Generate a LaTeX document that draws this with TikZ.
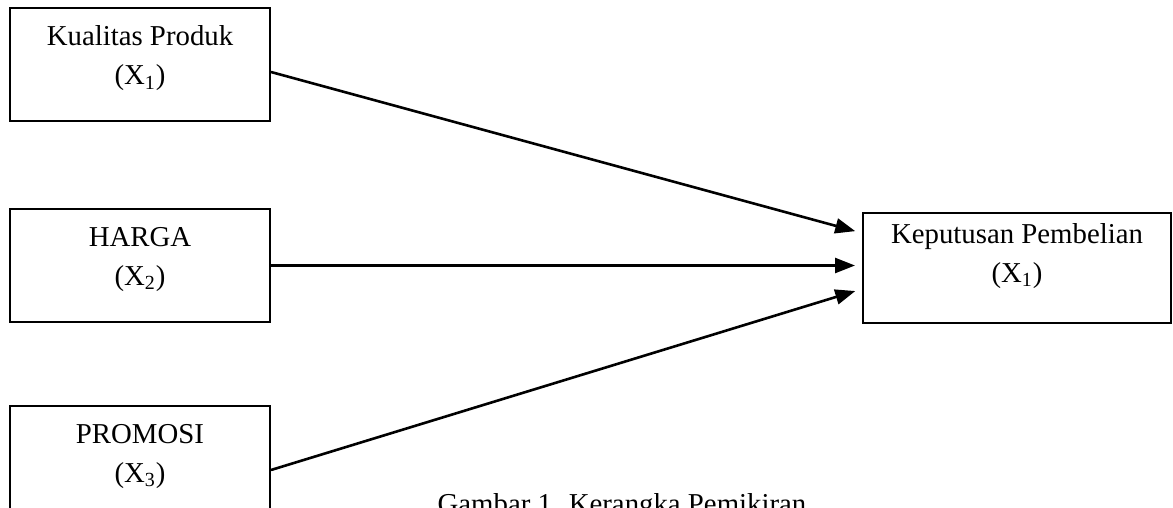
\documentclass[tikz,border=0pt]{standalone}
\usepackage{fontspec}
\setmainfont{Liberation Serif}
\usetikzlibrary{arrows.meta, positioning}

\begin{document}
\begin{tikzpicture}[
  x=0.5pt, y=-0.5pt,
  font=\fontsize{14.4}{19.5}\selectfont,
  kotak/.style={draw, line width=1pt, minimum width=130pt, minimum height=56.5pt,
                inner sep=0pt, align=center, text depth=9pt},
  panah/.style={-{Triangle[length=10pt, width=7.5pt]}, line width=1.3pt, shorten >=3.5pt},
  judul/.style={anchor=base}
]
\useasboundingbox (0,0) rectangle (1173,508);
\clip (0,0) rectangle (1173,508);

% Variabel bebas di kiri, variabel terikat di kanan.
\node[kotak] (produk) at (140,64.5) {Kualitas Produk\\(X\textsubscript{1})};
\node[kotak, below=43pt of produk] (harga) {HARGA\\(X\textsubscript{2})};
\node[kotak, below=41pt of harga] (promosi) {PROMOSI\\(X\textsubscript{3})};
\node[kotak, minimum width=154pt, minimum height=55pt, text depth=15pt] (keputusan)
  at (1017,268) {Keputusan Pembelian\\(X\textsubscript{1})};

\draw[panah] ([yshift=-3.75pt]produk.east) -- ([yshift=17.5pt]keputusan.west);
\draw[panah] (harga.east) -- (harga.east -| keputusan.west);
\draw[panah] ([yshift=-3.75pt]promosi.east) -- ([yshift=-10.5pt]keputusan.west);

\node[judul] (gambar) at (622,513) {Gambar 1. Kerangka Pemikiran};

\end{tikzpicture}
\end{document}
